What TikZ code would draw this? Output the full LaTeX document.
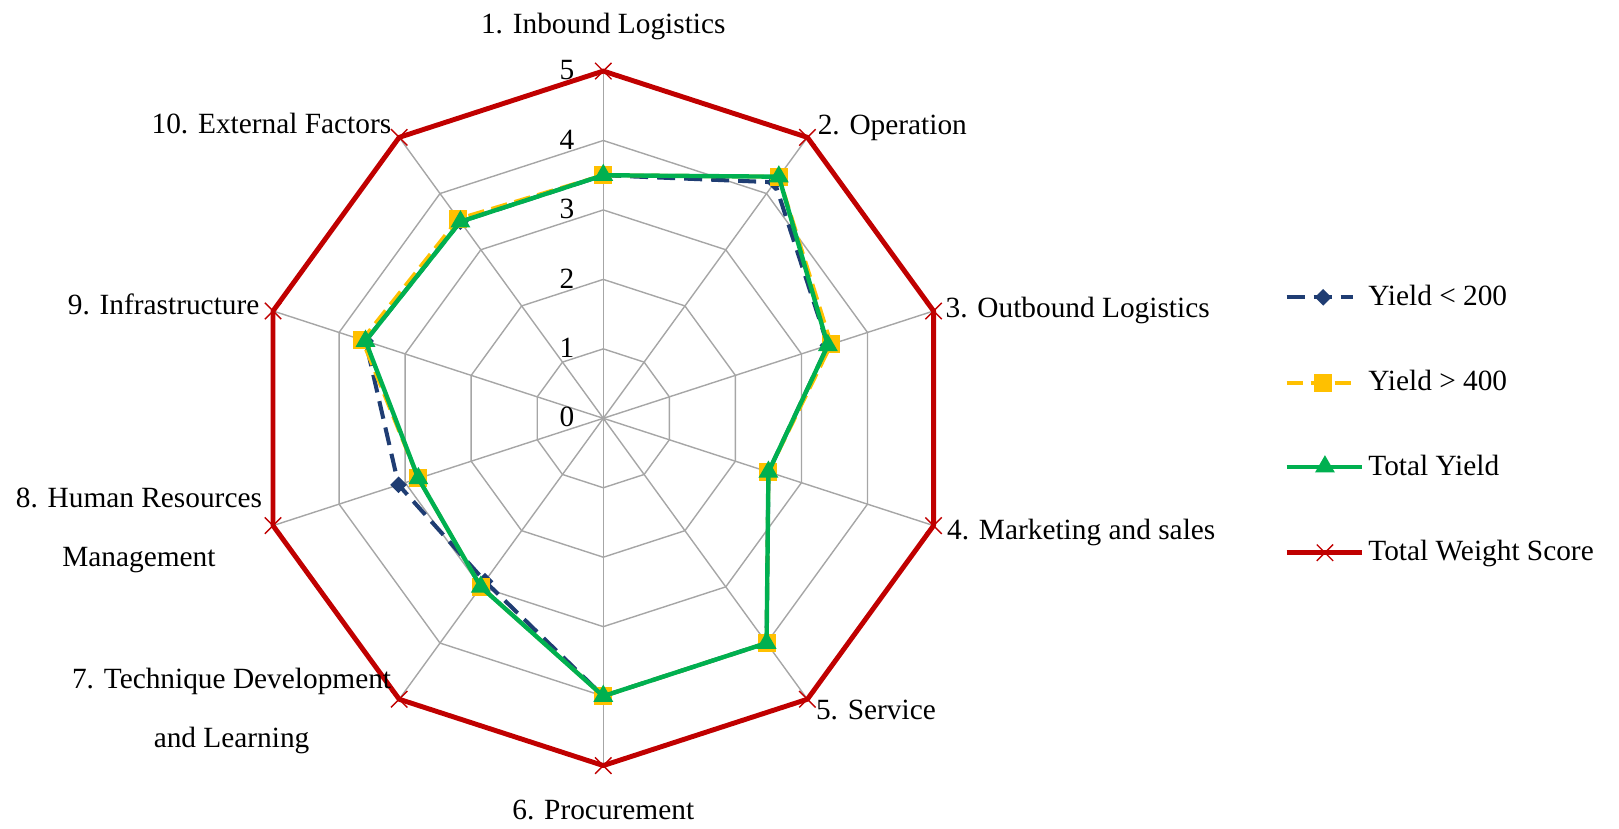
\documentclass[tikz,border=0pt]{standalone}
\usepackage{fontspec}
\setmainfont{Liberation Serif}
\usepackage{xcolor}
\usepackage{tikz}
\usetikzlibrary{positioning,calc,shapes.geometric,shapes.misc}

\definecolor{lowblue}{HTML}{1F3D73}
\definecolor{highyellow}{HTML}{FFC000}
\definecolor{totgreen}{HTML}{00B050}
\definecolor{wred}{HTML}{C00000}
\definecolor{gridgray}{HTML}{A6A6A6}

\begin{document}
\begin{tikzpicture}[x=1.389cm, y=1.389cm,
    lbl/.style={font=\fontsize{16.7}{33.5}\selectfont, inner sep=0pt},
    gridline/.style={draw=gridgray, line width=0.8pt},
    lowline/.style={lowblue, line width=2.3pt, dash pattern=on 0.36cm off 0.18cm, line join=round},
    highline/.style={highyellow, line width=2.2pt, dash pattern=on 0.33cm off 0.15cm, line join=round},
    totline/.style={totgreen, line width=2.5pt, line join=round},
    wline/.style={wred, line width=2.8pt, line join=round},
    lowmark/.style={diamond, fill=lowblue, inner sep=0pt, minimum size=0.34cm},
    highmark/.style={rectangle, fill=highyellow, inner sep=0pt, minimum size=0.36cm},
    totmark/.style={regular polygon, regular polygon sides=3, fill=totgreen, inner sep=0pt, minimum size=0.46cm},
    wmark/.style={cross out, draw=wred, line width=0.8pt, inner sep=0pt, minimum size=0.3cm}]
\useasboundingbox (-12.066cm,-8.194cm) rectangle (20.314cm,8.366cm);

% web: rings, spokes, scale
\coordinate (o) at (0,0);
\foreach \k in {1,...,10} \coordinate (v\k) at ({126-36*\k}:5);
\foreach \r in {1,...,4}
  \draw[gridline] (90:\r) \foreach \k in {1,...,9} { -- ({90-36*\k}:\r) } -- cycle;
\foreach \k in {1,...,10} \draw[gridline] (o) -- (v\k);
\foreach \r in {0,...,5} \node[lbl] (s\r) at ($(90:\r)+(-0.726cm,0.02cm)$) {\r};

% total weight score
\draw[wline] (v1) \foreach \k in {2,...,10} { -- (v\k) } -- cycle;
\foreach \k in {1,...,10} \node[wmark] (wm\k) at (v\k) {};

% yield < 200
\foreach \v [count=\k] in {3.5,4.2,3.4,2.5,4.0,4.0,2.9,3.1,3.6,3.5}
  \coordinate (b\k) at ({126-36*\k}:\v);
\draw[lowline] (b1) \foreach \k in {2,...,10} { -- (b\k) } -- cycle;
\foreach \k in {1,...,10} \node[lowmark] (bm\k) at (b\k) {};

% yield > 400
\foreach \v [count=\k] in {3.5,4.3,3.45,2.5,4.0,4.0,3.0,2.8,3.65,3.55}
  \coordinate (y\k) at ({126-36*\k}:\v);
\draw[highline] (y1) \foreach \k in {2,...,10} { -- (y\k) } -- cycle;
\foreach \k in {1,...,10} \node[highmark] (ym\k) at (y\k) {};

% total yield
\foreach \v [count=\k] in {3.5,4.3,3.4,2.5,4.0,4.0,3.0,2.8,3.6,3.5}
  \coordinate (g\k) at ({126-36*\k}:\v);
\draw[totline] (g1) \foreach \k in {2,...,10} { -- (g\k) } -- cycle;
\foreach \k in {1,...,10} \node[totmark] (gm\k) at (g\k) {};

% category labels
\node[lbl, anchor=base] (c1) at ($(v1)+(0,0.754cm)$) {1. Inbound Logistics};
\node[lbl, anchor=base west] (c2) at ($(v2)+(0.2cm,0.066cm)$) {2. Operation};
\node[lbl, anchor=base west] (c3) at ($(v3)+(0.234cm,-0.134cm)$) {3. Outbound Logistics};
\node[lbl, anchor=base west] (c4) at ($(v4)+(0.266cm,-0.268cm)$) {4. Marketing and sales};
\node[lbl, anchor=base west] (c5) at ($(v5)+(0.166cm,-0.4cm)$) {5. Service};
\node[lbl, anchor=base] (c6) at ($(v6)+(0,-1.088cm)$) {6. Procurement};
\node[lbl, anchor=base, align=center] (c7) at ($(v7)+(-3.352cm,-0.966cm)$) {7. Technique Development\\and Learning};
\node[lbl, anchor=base, align=center] (c8) at ($(v8)+(-2.682cm,-0.824cm)$) {8. Human Resources\\Management};
\node[lbl, anchor=base east] (c9) at ($(v9)+(-0.266cm,-0.08cm)$) {9. Infrastructure};
\node[lbl, anchor=base east] (c10) at ($(v10)+(-0.152cm,0.086cm)$) {10. External Factors};

% legend
\coordinate (k1a) at (13.668cm,2.42cm);   \coordinate (k1b) at (14.994cm,2.42cm);
\coordinate (k2a) at (13.668cm,0.70cm);   \coordinate (k2b) at (14.994cm,0.70cm);
\coordinate (k3a) at (13.668cm,-0.968cm); \coordinate (k3b) at (15.168cm,-0.968cm);
\coordinate (k4a) at (13.668cm,-2.688cm); \coordinate (k4b) at (15.168cm,-2.688cm);
\draw[lowline] (k1a) -- (k1b);
\node[lowmark] (km1) at ($(k1a)!0.55!(k1b)$) {};
\draw[highline] (k2a) -- (k2b);
\node[highmark] (km2) at ($(k2a)!0.55!(k2b)$) {};
\draw[totline] (k3a) -- (k3b);
\node[totmark] (km3) at ($(k3a)!0.51!(k3b)$) {};
\draw[wline] (k4a) -- (k4b);
\node[wmark] (km4) at ($(k4a)!0.51!(k4b)$) {};
\node[lbl, anchor=base west] (t1) at (15.294cm,2.266cm) {Yield < 200};
\node[lbl, anchor=base west] (t2) at (15.294cm,0.566cm) {Yield > 400};
\node[lbl, anchor=base west] (t3) at (15.294cm,-1.134cm) {Total Yield};
\node[lbl, anchor=base west] (t4) at (15.294cm,-2.834cm) {Total Weight Score};
\end{tikzpicture}
\end{document}
